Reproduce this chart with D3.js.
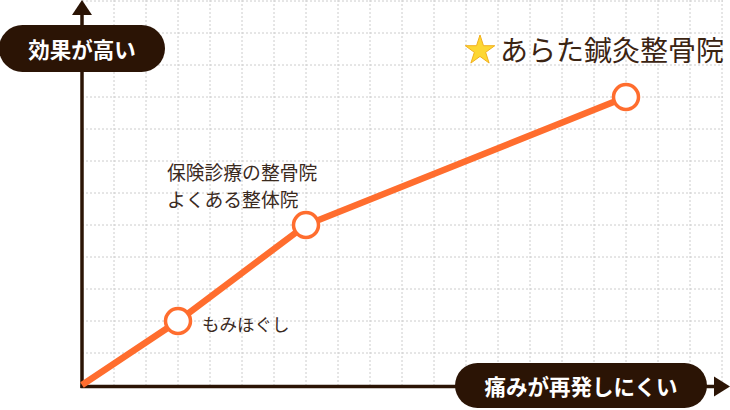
<!DOCTYPE html>
<html>
<head>
<meta charset="utf-8">
<script src="https://cdn.jsdelivr.net/npm/d3@7"></script>
<style>
  html, body { margin: 0; padding: 0; background: #fff; }
  svg { display: block; font-family: "Noto Sans CJK JP", "Noto Sans", sans-serif; }
</style>
</head>
<body>
<svg id="chart" width="730" height="410"></svg>
<script>
// data in grid units
const effectLevel = [0, 2, 5, 9];          // 効果 (vertical)
const recurrence = [0, 3, 7, 17];          // 痛みが再発しにくい (horizontal)
const pointNames = [null, ['もみほぐし'], ['保険診療の整骨院', 'よくある整体院'], null];
const yAxisTitle = '効果が高い';
const xAxisTitle = '痛みが再発しにくい';
const brandTitle = 'あらた鍼灸整骨院';

const svg = d3.select('#chart');
const brown = '#2b1405';
const orange = '#ff6d2e';

const x = d3.scaleLinear().domain([0, 20]).range([82, 722]);
const y = d3.scaleLinear().domain([0, 12]).range([385, 1]);

// dotted grid
svg.append('g').selectAll('line.v')
    .data(x.ticks(20).slice(1))
    .enter().append('line')
    .attr('x1', d => x(d)).attr('x2', d => x(d))
    .attr('y1', 0).attr('y2', y(0))
    .attr('stroke', '#cccccc').attr('stroke-dasharray', '2,2');

svg.append('g').selectAll('line.h')
    .data(y.ticks(12).slice(1))
    .enter().append('line')
    .attr('x1', x(0)).attr('x2', x(20) + 1)
    .attr('y1', d => y(d)).attr('y2', d => y(d))
    .attr('stroke', '#cccccc').attr('stroke-dasharray', '2,2');

// axes with arrows
svg.append('line')
    .attr('x1', x(0)).attr('x2', x(0))
    .attr('y1', y(0) + 3).attr('y2', 12)
    .attr('stroke', brown).attr('stroke-width', 3.5);
svg.append('path')
    .attr('d', `M${x(0) - 10},15 L${x(0)},0 L${x(0) + 10},15 Z`)
    .attr('fill', brown);

svg.append('line')
    .attr('x1', x(0) - 1.5).attr('x2', 718)
    .attr('y1', y(0) + 1.5).attr('y2', y(0) + 1.5)
    .attr('stroke', brown).attr('stroke-width', 3.5);
svg.append('path')
    .attr('d', `M714,${y(0) + 1.5 - 10} L730,${y(0) + 1.5} L714,${y(0) + 1.5 + 10} Z`)
    .attr('fill', brown);

// line + points
const pts = recurrence.map((v, i) => ({ x: v, y: effectLevel[i], name: pointNames[i] }));

const defs = svg.append('defs');
defs.append('filter').attr('id', 'soft')
    .append('feGaussianBlur').attr('stdDeviation', 0.6);

svg.append('path')
    .datum(pts)
    .attr('d', d3.line().x(d => x(d.x)).y(d => y(d.y)))
    .attr('fill', 'none')
    .attr('stroke', orange)
    .attr('stroke-width', 6.5);

svg.selectAll('circle.pt')
    .data(pts.slice(1))
    .enter().append('circle')
    .attr('class', 'pt')
    .attr('cx', d => x(d.x)).attr('cy', d => y(d.y))
    .attr('r', 12.5)
    .attr('fill', '#fff')
    .attr('stroke', orange)
    .attr('stroke-width', 3.5)
    .attr('filter', 'url(#soft)');

// point labels
const labelColor = '#3a2a1e';
pts.forEach(p => {
    if (!p.name) return;
    const multi = p.name.length > 1;
    const lx = multi ? x(p.x) - 139 : x(p.x) + 24;
    const ly = multi ? y(p.y) - 54 : y(p.y) + 2;
    const t = svg.append('text')
        .attr('x', lx).attr('y', ly)
        .attr('fill', labelColor)
        .attr('font-size', multi ? 18.8 : 17.5)
        .attr('dominant-baseline', 'central');
    p.name.forEach((s, i) => {
        t.append('tspan').attr('x', lx).attr('dy', i === 0 ? 0 : 27).text(s);
    });
});

// axis title pills
function pill(cx, cy, w, h, label) {
    svg.append('rect')
        .attr('x', cx - w / 2).attr('y', cy - h / 2)
        .attr('width', w).attr('height', h)
        .attr('rx', h / 2).attr('ry', h / 2)
        .attr('fill', brown);
    svg.append('text')
        .attr('x', cx).attr('y', cy)
        .attr('text-anchor', 'middle')
        .attr('dominant-baseline', 'central')
        .attr('fill', '#fff')
        .attr('font-size', 21.5)
        .attr('font-weight', 'bold')
        .text(label);
}
pill(82, 48.5, 166, 47, yAxisTitle);
pill(581, 385.5, 252, 45, xAxisTitle);

// brand title with star
svg.append('path')
    .attr('d', d3.symbol(d3.symbolStar, 270)())
    .attr('transform', 'translate(480,50.5)')
    .attr('fill', '#fdd733')
    .attr('stroke', '#f2b01e')
    .attr('stroke-width', 1);

svg.append('text')
    .attr('x', 500).attr('y', 49)
    .attr('dominant-baseline', 'central')
    .attr('fill', '#3b2412')
    .attr('font-size', 28)
    .text(brandTitle);
</script>
</body>
</html>
